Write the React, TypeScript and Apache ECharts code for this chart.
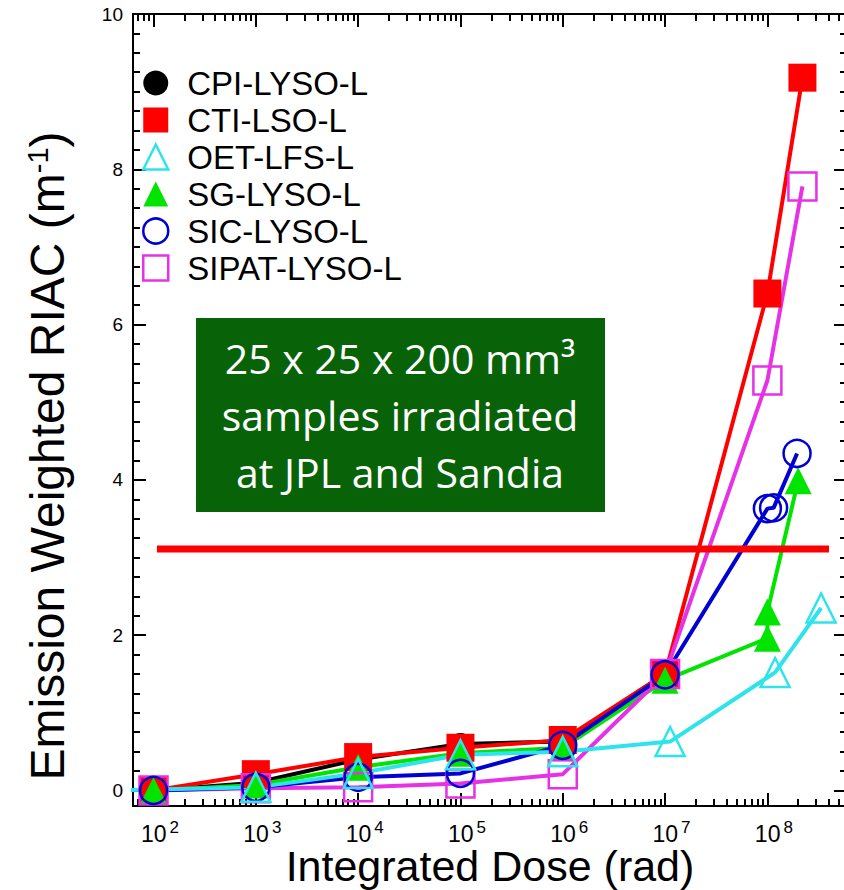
import React, { useEffect, useRef } from 'react';
import * as echarts from 'echarts';

// ---- data (dose in rad, emission weighted RIAC in m^-1) ----
const cpiDose = [1e2, 1e3, 1e4, 1e5, 1e6, 1e7];
const cpiRiac = [0, 0.1, 0.4, 0.6, 0.63, 1.5];

const ctiDose = [1e2, 1e3, 1e4, 1e5, 1e6, 1e7, 1e8, 2.2e8];
const ctiRiac = [0, 0.21, 0.43, 0.55, 0.65, 1.5, 6.4, 9.18];

const oetDose = [40, 1e3, 1e4, 1e5, 1e6, 1.12e7, 1.19e8, 3.35e8];
const oetRiac = [0, 0.04, 0.22, 0.46, 0.5, 0.63, 1.52, 2.35];

const sgDose = [1e2, 1e3, 1e4, 1e5, 1e6, 1e7, 1e8, 1e8, 2e8];
const sgRiac = [0, 0.07, 0.3, 0.48, 0.55, 1.42, 1.96, 2.3, 3.99];

const sicDose = [1e2, 1e3, 1e4, 1e5, 1e6, 1e7, 1e8, 1.15e8, 1.95e8];
const sicRiac = [0, 0.04, 0.17, 0.22, 0.58, 1.49, 3.63, 3.64, 4.34];

const sipatDose = [1e2, 1e3, 1e4, 1e5, 1e6, 1e7, 1e8, 2.2e8];
const sipatRiac = [0, 0.03, 0.04, 0.09, 0.21, 1.5, 5.28, 7.78];

const limitDose = [108, 4.0e8];
const limitRiac = [3.11, 3.11];

const xMajorTicks = [1e2, 1e3, 1e4, 1e5, 1e6, 1e7, 1e8];
const yMajorTicks = [0, 2, 4, 6, 8, 10];

const X_MIN = 63;
const X_MAX = 6e8;
const Y_MIN = -0.2;
const Y_MAX = 10;

const xMinorTicks: number[] = [];
for (let d = 1; d <= 8; d++) {
  for (let k = 2; k <= 9; k++) {
    const v = k * Math.pow(10, d);
    if (v >= X_MIN && v <= X_MAX) xMinorTicks.push(v);
  }
}
const yMinorTicks: number[] = [];
for (let i = 0; i <= 40; i++) yMinorTicks.push(i * 0.25);

const FONT = '"Liberation Sans", Arial, Helvetica, sans-serif';

const zip = (xs: number[], ys: number[]) => xs.map((x, i) => [x, ys[i]]);

export default function App() {
  const ref = useRef<HTMLDivElement>(null);

  useEffect(() => {
    document.body.style.margin = '0';
    if (!ref.current) return;
    const chart = echarts.init(ref.current, null, { renderer: 'svg' });

    const xBase = (position: string, major: boolean, labels: boolean) => ({
      type: 'log',
      min: X_MIN,
      max: X_MAX,
      position,
      gridIndex: 0,
      axisLine: { show: major, onZero: false, lineStyle: { color: '#000', width: 2 } },
      axisTick: {
        show: true,
        inside: true,
        length: major ? 13 : 7,
        lineStyle: { color: '#000', width: 2 },
        customValues: major ? xMajorTicks : xMinorTicks,
      },
      axisLabel: labels
        ? {
            show: true,
            customValues: xMajorTicks,
            margin: 13,
            color: '#000',
            fontFamily: FONT,
            formatter: (v: number) => `{b|10}{s|${Math.round(Math.log10(v))}}`,
            rich: {
              b: { fontSize: 23, fontFamily: FONT, color: '#000', lineHeight: 26, verticalAlign: 'bottom', padding: [0, 0, 0, 13] },
              s: { fontSize: 17, fontFamily: FONT, color: '#000', lineHeight: 6, verticalAlign: 'top', padding: [0, 0, 0, 3] },
            },
          }
        : { show: false },
      splitLine: { show: false },
      minorTick: { show: false },
    });

    const yBase = (position: string, major: boolean, labels: boolean) => ({
      type: 'value',
      min: Y_MIN,
      max: Y_MAX,
      position,
      gridIndex: 0,
      axisLine: { show: major, onZero: false, lineStyle: { color: '#000', width: 2 } },
      axisTick: {
        show: true,
        inside: true,
        length: major ? 13 : 7,
        lineStyle: { color: '#000', width: 2 },
        customValues: major ? yMajorTicks : yMinorTicks,
      },
      axisLabel: labels
        ? { show: true, customValues: yMajorTicks, margin: 10, fontSize: 19, fontFamily: FONT, color: '#000' }
        : { show: false },
      splitLine: { show: false },
    });

    const xAxes: any[] = [
      {
        ...xBase('bottom', true, true),
        name: 'Integrated Dose (rad)',
        nameLocation: 'middle',
        nameGap: 45,
        nameMoveOverlap: false,
        nameTextStyle: { fontSize: 43, fontFamily: FONT, color: '#000', verticalAlign: 'top', lineHeight: 30 },
      },
      xBase('bottom', false, false),
      xBase('top', true, false),
      xBase('top', false, false),
    ];
    const yAxes: any[] = [
      {
        ...yBase('left', true, true),
        name: 'Emission Weighted RIAC (m{s|-1})',
        nameLocation: 'middle',
        nameGap: 62,
        nameRotate: 90,
        nameMoveOverlap: false,
        nameTextStyle: {
          fontSize: 48,
          fontFamily: FONT,
          color: '#000',
          padding: [0, 92, 0, 0],
          rich: {
            s: { fontSize: 29, fontFamily: FONT, color: '#000', lineHeight: 18, verticalAlign: 'top' },
          },
        },
      },
      yBase('left', false, false),
      yBase('right', true, false),
      yBase('right', false, false),
    ];

    const mk = (
      name: string,
      xs: number[],
      ys: number[],
      color: string,
      symbol: string,
      size: number,
      filled: boolean
    ) => ({
      name,
      type: 'line',
      xAxisIndex: 0,
      yAxisIndex: 0,
      data: zip(xs, ys),
      symbol,
      symbolSize: size,
      showAllSymbol: true,
      clip: true,
      lineStyle: { color, width: 4 },
      itemStyle: filled
        ? { color, borderWidth: 0 }
        : { color: 'rgba(0,0,0,0)', borderColor: color, borderWidth: 2.5 },
      emphasis: { disabled: true },
      z: 2,
    });

    const BLACK = '#000000';
    const RED = '#ff0000';
    const CYAN = '#2ee4ec';
    const GREEN = '#00e400';
    const BLUE = '#0000d2';
    const MAGENTA = '#e632e6';

    const series: any[] = [
      mk('CPI-LYSO-L', cpiDose, cpiRiac, BLACK, 'circle', 22, true),
      mk('CTI-LSO-L', ctiDose, ctiRiac, RED, 'rect', 28, true),
      mk('SG-LYSO-L', sgDose, sgRiac, GREEN, 'triangle', 27, true),
      mk('SIPAT-LYSO-L', sipatDose, sipatRiac, MAGENTA, 'rect', 28, false),
      mk('SIC-LYSO-L', sicDose, sicRiac, BLUE, 'circle', 27, false),
      mk('OET-LFS-L', oetDose, oetRiac, CYAN, 'triangle', 29, false),
      {
        name: 'limit',
        type: 'line',
        data: zip(limitDose, limitRiac),
        symbol: 'none',
        lineStyle: { color: RED, width: 7 },
        emphasis: { disabled: true },
        silent: true,
        z: 3,
      },
    ];

    const legendItem = (name: string, icon: string, color: string, filled: boolean) => ({
      name,
      icon,
      itemStyle: filled
        ? { color, borderWidth: 0 }
        : { color: 'rgba(0,0,0,0)', borderColor: color, borderWidth: 2.5 },
    });

    chart.setOption({
      animation: false,
      backgroundColor: '#ffffff',
      grid: { left: 133, right: -3, top: 14, bottom: 84, containLabel: false, outerBoundsMode: 'none' },
      xAxis: xAxes,
      yAxis: yAxes,
      legend: {
        orient: 'vertical',
        left: 142,
        top: 66.5,
        padding: 0,
        itemWidth: 25,
        itemHeight: 25,
        itemGap: 4,
        selectedMode: false,
        textStyle: { fontSize: 33, fontFamily: FONT, color: '#000', lineHeight: 25, padding: [0, 0, 0, 14] },
        data: [
          legendItem('CPI-LYSO-L', 'circle', BLACK, true),
          legendItem('CTI-LSO-L', 'rect', RED, true),
          legendItem('OET-LFS-L', 'triangle', CYAN, false),
          legendItem('SG-LYSO-L', 'triangle', GREEN, true),
          legendItem('SIC-LYSO-L', 'circle', BLUE, false),
          legendItem('SIPAT-LYSO-L', 'rect', MAGENTA, false),
        ],
      },
      graphic: [
        {
          type: 'group',
          left: 196,
          top: 318,
          children: [
            { type: 'rect', shape: { x: 0, y: 0, width: 409, height: 194 }, style: { fill: '#086308' } },
            {
              type: 'text',
              x: 204,
              y: 97,
              style: {
                text: '25 x 25 x 200 mm³\nsamples irradiated\nat JPL and Sandia',
                fill: '#ffffff',
                fontSize: 41,
                fontFamily: '"Open Sans", "Noto Sans", sans-serif',
                lineHeight: 57,
                align: 'center',
                verticalAlign: 'middle',
              },
            },
          ],
        },
      ],
      series,
    });

    return () => chart.dispose();
  }, []);

  return <div ref={ref} style={{ width: 844, height: 890 }} />;
}
